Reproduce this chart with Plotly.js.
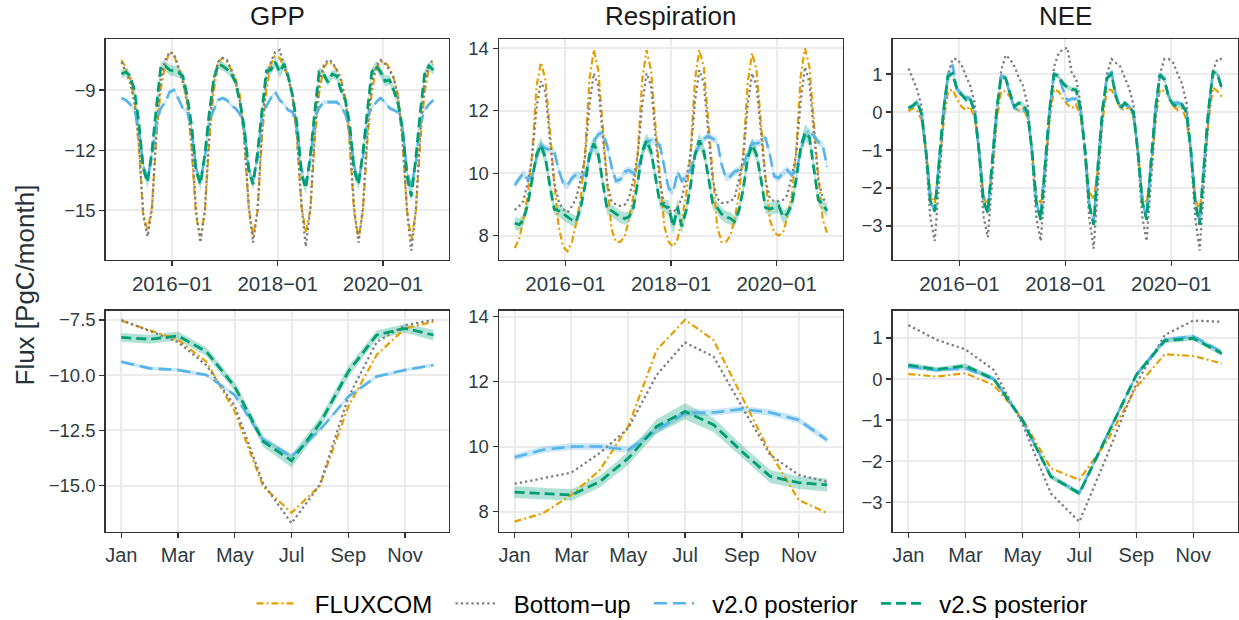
<!DOCTYPE html>
<html><head><meta charset="utf-8">
<script src="https://cdn.plot.ly/plotly-3.0.1.min.js"></script>
<style>html,body{margin:0;padding:0;background:#fff}#chart{width:1239px;height:620px}</style>
</head><body><div id="chart"></div>
<script>
// ---------- categories / tick labels ----------
const years = [2015, 2016, 2017, 2018, 2019, 2020];
const monthNums = [1,2,3,4,5,6,7,8,9,10,11,12];
const monthTickVals = [1,3,5,7,9,11];
const monthTickText = ['Jan','Mar','May','Jul','Sep','Nov'];
const dateTickVals = ['2016-01-01','2018-01-01','2020-01-01'];
const dateTickText = ['2016\u221201','2018\u221201','2020\u221201'];
const panelTitles = ['GPP','Respiration','NEE'];
const seriesNames = ['FLUXCOM','Bottom\u2212up','v2.0 posterior','v2.S posterior'];

// ---------- GPP monthly time series 2015-01 .. 2020-12 ----------
const gppTsFluxcom = [
-7.5,-7.9,-8.4,-9.5,-11.8,-15.2,-16.0,-14.8,-11.2,-8.9,-7.7,-7.1,
-7.3,-7.9,-8.5,-9.6,-11.9,-15.3,-16.3,-15.1,-11.5,-9.1,-7.6,-7.4,
-7.6,-8.0,-8.4,-9.3,-11.5,-14.9,-16.3,-15.0,-11.3,-9.0,-7.7,-7.3,
-7.4,-7.9,-8.3,-9.3,-11.4,-14.8,-16.1,-15.0,-11.5,-9.2,-7.9,-7.6,
-7.7,-8.0,-8.4,-9.4,-11.7,-15.1,-16.4,-15.0,-11.5,-9.1,-7.9,-7.6,
-7.6,-7.9,-8.4,-9.3,-11.6,-15.0,-16.5,-15.1,-11.6,-9.1,-7.9,-7.7];
const gppTsBottomUp = [
-7.6,-8.1,-8.6,-9.6,-11.5,-15.2,-16.3,-14.9,-10.9,-8.4,-7.5,-7.1,
-7.2,-7.9,-8.6,-9.7,-11.5,-15.0,-16.6,-15.0,-11.0,-8.4,-7.6,-7.4,
-7.5,-8.0,-8.6,-9.6,-11.3,-14.8,-16.6,-15.0,-10.9,-8.4,-7.6,-7.1,
-7.0,-7.8,-8.4,-9.4,-11.3,-14.7,-16.8,-15.0,-11.1,-8.6,-7.8,-7.5,
-7.6,-8.0,-8.5,-9.5,-11.4,-14.9,-16.6,-14.9,-11.0,-8.6,-7.8,-7.5,
-7.7,-8.0,-8.4,-9.4,-11.4,-15.0,-17.0,-15.0,-11.1,-8.6,-7.7,-7.5];
const gppTsV20 = [
-9.4,-9.5,-9.7,-10.0,-10.9,-12.8,-13.4,-12.3,-10.6,-9.9,-9.6,-9.1,
-9.0,-9.5,-9.9,-10.1,-10.9,-12.9,-13.5,-12.4,-10.5,-10.0,-9.5,-9.4,
-9.5,-9.8,-9.9,-10.2,-11.0,-12.9,-13.5,-12.4,-10.3,-9.8,-9.4,-9.1,
-9.5,-9.7,-10.0,-10.1,-10.9,-12.9,-13.7,-12.5,-10.4,-9.9,-9.6,-9.6,
-9.6,-9.6,-9.8,-10.2,-10.9,-12.8,-13.5,-12.4,-10.3,-9.9,-9.6,-9.4,
-9.6,-9.9,-10.0,-10.1,-10.9,-13.0,-13.9,-12.6,-10.7,-10.0,-9.7,-9.5];
const gppTsV20Sd = [
0.1,0.1,0.1,0.1,0.1,0.12,0.12,0.12,0.1,0.1,0.1,0.1,
0.1,0.1,0.1,0.1,0.1,0.12,0.12,0.12,0.1,0.1,0.1,0.1,
0.1,0.1,0.1,0.1,0.1,0.12,0.12,0.12,0.1,0.1,0.1,0.1,
0.1,0.1,0.1,0.1,0.1,0.12,0.12,0.12,0.1,0.1,0.1,0.1,
0.1,0.1,0.1,0.1,0.1,0.12,0.12,0.12,0.1,0.1,0.1,0.1,
0.1,0.1,0.1,0.1,0.1,0.12,0.12,0.12,0.1,0.1,0.1,0.1];
const gppTsV2S = [
-8.2,-8.1,-8.3,-9.0,-10.6,-12.9,-13.6,-12.0,-9.8,-7.8,-7.8,-8.0,
-8.05,-8.13,-8.3,-9.3,-10.8,-13.0,-13.7,-12.2,-10.1,-8.5,-7.7,-7.8,
-7.97,-8.2,-8.6,-9.6,-10.9,-13.0,-13.7,-12.1,-10.0,-8.05,-8.0,-7.6,
-8.1,-7.7,-8.3,-9.3,-10.7,-13.2,-13.9,-12.3,-10.1,-8.1,-8.2,-8.6,
-8.2,-8.3,-9.0,-9.5,-10.7,-13.0,-13.7,-12.1,-10.0,-8.1,-7.8,-8.1,
-8.55,-8.5,-9.0,-9.7,-10.9,-13.3,-14.3,-12.4,-10.1,-8.2,-7.8,-8.0];
const gppTsV2SSd = [
0.22,0.22,0.2,0.2,0.22,0.28,0.3,0.28,0.25,0.22,0.25,0.28,
0.28,0.25,0.22,0.2,0.22,0.28,0.3,0.28,0.25,0.22,0.22,0.22,
0.22,0.22,0.2,0.2,0.22,0.28,0.3,0.28,0.25,0.22,0.22,0.25,
0.3,0.3,0.25,0.2,0.22,0.28,0.3,0.28,0.25,0.22,0.22,0.22,
0.22,0.22,0.2,0.2,0.22,0.28,0.3,0.28,0.25,0.22,0.25,0.28,
0.28,0.25,0.22,0.2,0.22,0.28,0.3,0.28,0.25,0.22,0.22,0.25];

// ---------- Respiration monthly time series ----------
const respTsFluxcom = [
7.6,7.9,8.5,9.3,10.6,12.8,13.55,13.0,11.4,9.7,8.3,7.65,
7.5,7.8,8.4,9.2,10.6,13.0,13.95,13.3,11.5,9.7,8.2,7.8,
7.8,8.0,8.5,9.3,10.6,13.0,13.95,13.3,11.5,9.8,8.3,7.8,
7.65,7.9,8.5,9.3,10.6,13.0,13.95,13.4,11.6,9.8,8.3,7.8,
7.8,8.0,8.5,9.3,10.6,12.9,13.85,13.3,11.6,9.9,8.5,8.1,
8.0,8.1,8.6,9.3,10.7,13.1,14.0,13.4,11.6,9.9,8.5,8.1];
const respTsBottomUp = [
8.82,8.95,9.1,9.7,10.5,12.1,12.95,12.6,11.1,9.7,9.1,8.85,
8.75,8.95,9.2,9.8,10.5,12.2,13.2,12.8,11.2,9.7,9.1,9.0,
8.95,9.0,9.2,9.8,10.6,12.2,13.2,12.8,11.2,9.7,9.0,8.8,
8.75,8.9,9.2,9.8,10.6,12.3,13.3,12.9,11.3,9.8,9.2,9.05,
9.05,9.1,9.2,9.8,10.5,12.2,13.2,12.8,11.3,9.8,9.2,9.1,
9.1,9.15,9.3,9.9,10.6,12.3,13.4,12.9,11.3,9.8,9.2,9.05];
const respTsV20 = [
9.62,9.8,10.0,9.8,9.9,10.5,10.9,10.8,10.75,10.7,10.1,9.7,
9.6,9.85,9.95,9.9,9.95,10.5,11.0,11.25,11.3,10.9,10.2,9.75,
9.8,10.05,10.1,10.0,10.1,10.6,11.0,11.05,11.0,10.9,10.2,9.5,
9.4,10.05,9.75,9.9,10.1,10.6,10.9,11.1,11.2,11.1,11.05,10.3,
9.85,9.9,10.05,10.1,10.2,10.7,10.95,10.95,11.0,11.15,10.6,9.9,
9.85,10.0,10.1,9.95,10.1,10.7,11.2,11.3,11.2,11.0,10.9,10.2];
const respTsV20Sd = [
0.12,0.12,0.12,0.12,0.12,0.12,0.12,0.12,0.12,0.12,0.12,0.12,
0.12,0.12,0.12,0.12,0.12,0.12,0.12,0.12,0.12,0.12,0.12,0.12,
0.12,0.12,0.12,0.12,0.12,0.12,0.12,0.12,0.12,0.12,0.12,0.12,
0.12,0.12,0.12,0.12,0.12,0.12,0.12,0.12,0.12,0.12,0.12,0.12,
0.12,0.12,0.12,0.12,0.12,0.12,0.12,0.12,0.12,0.12,0.12,0.12,
0.12,0.12,0.12,0.12,0.12,0.12,0.12,0.12,0.12,0.12,0.12,0.12];
const respTsV2S = [
8.4,8.35,8.5,9.0,9.8,10.6,10.9,10.5,9.6,8.85,8.8,8.7,
8.6,8.5,8.45,8.9,9.6,10.6,10.95,10.6,9.7,8.85,8.8,8.7,
8.6,8.55,8.6,8.9,9.7,10.7,11.05,10.7,9.8,9.05,8.95,8.9,
8.3,8.9,8.3,8.8,9.6,10.6,11.05,10.7,9.9,9.05,8.9,8.7,
8.6,8.55,8.45,8.8,9.5,10.5,10.9,10.6,9.8,8.9,8.85,8.9,
8.95,8.6,8.7,9.0,9.8,10.8,11.3,11.15,10.2,9.15,9.0,8.8];
const respTsV2SSd = [
0.2,0.2,0.18,0.18,0.2,0.22,0.25,0.22,0.2,0.18,0.2,0.2,
0.2,0.2,0.18,0.18,0.2,0.22,0.25,0.22,0.2,0.18,0.2,0.2,
0.2,0.2,0.18,0.18,0.2,0.22,0.25,0.22,0.2,0.18,0.2,0.25,
0.28,0.28,0.25,0.18,0.2,0.22,0.25,0.22,0.2,0.18,0.2,0.2,
0.2,0.2,0.18,0.18,0.2,0.22,0.25,0.22,0.2,0.18,0.2,0.2,
0.22,0.22,0.2,0.18,0.2,0.22,0.28,0.25,0.2,0.18,0.2,0.2];

// ---------- NEE monthly time series ----------
const neeTsFluxcom = [
0.02,0.1,0.05,-0.2,-1.0,-2.1,-2.4,-1.5,-0.2,0.55,0.6,0.35,
0.15,0.05,0.15,-0.15,-0.95,-2.2,-2.5,-1.5,-0.2,0.55,0.55,0.4,
0.1,0.05,0.1,-0.15,-0.95,-2.2,-2.4,-1.45,-0.15,0.6,0.55,0.35,
0.2,0.1,0.2,-0.1,-0.9,-2.1,-2.3,-1.45,-0.2,0.6,0.58,0.4,
0.1,0.05,0.15,-0.15,-0.95,-2.2,-2.4,-1.5,-0.2,0.6,0.55,0.45,
0.15,0.05,0.1,-0.2,-1.0,-2.25,-2.6,-1.5,-0.2,0.65,0.55,0.4];
const neeTsBottomUp = [
1.15,0.85,0.6,0.15,-1.1,-2.8,-3.4,-1.8,-0.1,1.0,1.4,1.4,
1.25,0.95,0.7,0.25,-1.05,-2.75,-3.3,-1.75,-0.05,1.1,1.5,1.4,
1.2,0.9,0.7,0.2,-1.1,-2.8,-3.4,-1.8,-0.05,1.2,1.55,1.65,
1.7,1.0,0.9,0.25,-1.05,-2.8,-3.6,-1.85,-0.1,1.0,1.4,1.3,
1.2,0.9,0.65,0.2,-1.1,-2.75,-3.4,-1.8,-0.15,1.0,1.4,1.4,
1.3,1.0,0.75,0.25,-1.1,-2.8,-3.65,-1.85,-0.1,1.1,1.4,1.4];
const neeTsV20 = [
0.1,0.15,0.25,-0.05,-1.0,-2.35,-2.6,-1.3,0.1,1.0,1.25,0.6,
0.5,0.4,0.35,0.0,-1.0,-2.35,-2.65,-1.3,0.1,0.95,0.9,0.45,
0.1,0.05,0.05,0.0,-1.0,-2.4,-2.8,-1.35,0.1,1.0,0.95,0.6,
0.3,0.35,0.35,0.05,-0.95,-2.45,-2.9,-1.35,0.1,0.95,1.05,0.45,
0.15,0.2,0.15,0.0,-1.0,-2.35,-2.8,-1.3,0.1,1.0,0.9,0.4,
0.25,0.25,0.2,0.0,-1.0,-2.4,-2.9,-1.35,0.1,1.05,1.05,0.6];
const neeTsV20Sd = [
0.06,0.06,0.06,0.06,0.06,0.06,0.06,0.06,0.06,0.06,0.06,0.06,
0.06,0.06,0.06,0.06,0.06,0.06,0.06,0.06,0.06,0.06,0.06,0.06,
0.06,0.06,0.06,0.06,0.06,0.06,0.06,0.06,0.06,0.06,0.06,0.06,
0.06,0.06,0.06,0.06,0.06,0.06,0.06,0.06,0.06,0.06,0.06,0.06,
0.06,0.06,0.06,0.06,0.06,0.06,0.06,0.06,0.06,0.06,0.06,0.06,
0.06,0.06,0.06,0.06,0.06,0.06,0.06,0.06,0.06,0.06,0.06,0.06];
const neeTsV2S = [
0.11,0.17,0.28,-0.05,-1.0,-2.35,-2.62,-1.3,0.1,0.95,1.02,0.6,
0.45,0.33,0.37,0.0,-1.0,-2.35,-2.66,-1.3,0.1,0.94,0.9,0.5,
0.15,0.24,0.2,0.0,-1.0,-2.4,-2.84,-1.35,0.1,1.0,0.95,0.76,
0.65,0.6,0.59,0.1,-0.95,-2.45,-2.97,-1.35,0.1,0.9,1.0,0.41,
0.1,0.24,0.15,0.0,-1.0,-2.35,-2.84,-1.3,0.1,0.98,0.85,0.37,
0.2,0.15,0.2,0.0,-1.0,-2.4,-2.97,-1.35,0.1,1.07,0.98,0.63];
const neeTsV2SSd = [
0.07,0.07,0.07,0.07,0.07,0.08,0.08,0.08,0.07,0.07,0.07,0.07,
0.07,0.07,0.07,0.07,0.07,0.08,0.08,0.08,0.07,0.07,0.07,0.07,
0.07,0.07,0.07,0.07,0.07,0.08,0.08,0.08,0.07,0.07,0.07,0.07,
0.07,0.07,0.07,0.07,0.07,0.08,0.08,0.08,0.07,0.07,0.07,0.07,
0.07,0.07,0.07,0.07,0.07,0.08,0.08,0.08,0.07,0.07,0.07,0.07,
0.07,0.07,0.07,0.07,0.07,0.08,0.08,0.08,0.07,0.07,0.07,0.07];

// ---------- Monthly climatology (Jan..Dec) ----------
const gppClimFluxcom  = [-7.53,-7.95,-8.4,-9.39,-11.65,-15.04,-16.22,-15.0,-11.42,-9.08,-7.88,-7.58];
const gppClimBottomUp = [-7.5,-8.0,-8.5,-9.55,-11.4,-14.9,-16.7,-14.95,-11.0,-8.5,-7.74,-7.5];
const gppClimV20      = [-9.39,-9.69,-9.76,-9.99,-10.9,-12.93,-13.68,-12.48,-10.97,-10.06,-9.76,-9.54];
const gppClimV20Sd    = [0.08,0.08,0.08,0.08,0.08,0.1,0.1,0.1,0.08,0.08,0.08,0.08];
const gppClimV2S      = [-8.29,-8.37,-8.22,-8.93,-10.52,-13.0,-13.87,-12.18,-9.84,-8.18,-7.88,-8.18];
const gppClimV2SSd    = [0.2,0.2,0.2,0.2,0.2,0.25,0.3,0.25,0.25,0.2,0.2,0.25];

const respClimFluxcom  = [7.69,7.95,8.51,9.28,10.62,12.97,13.9,13.28,11.54,9.8,8.36,7.95];
const respClimBottomUp = [8.85,9.03,9.2,9.8,10.56,12.2,13.2,12.77,11.23,9.74,9.13,8.92];
const respClimV20      = [9.67,9.9,10.0,10.0,9.9,10.51,11.03,11.05,11.15,11.05,10.82,10.2];
const respClimV20Sd    = [0.1,0.1,0.1,0.1,0.1,0.1,0.1,0.1,0.1,0.1,0.1,0.1];
const respClimV2S      = [8.6,8.56,8.51,8.92,9.64,10.62,11.08,10.67,9.85,9.08,8.89,8.82];
const respClimV2SSd    = [0.18,0.18,0.18,0.18,0.2,0.22,0.25,0.22,0.2,0.2,0.2,0.2];

const neeClimFluxcom  = [0.12,0.06,0.14,-0.15,-0.96,-2.17,-2.45,-1.48,-0.19,0.6,0.56,0.38];
const neeClimBottomUp = [1.31,0.95,0.72,0.22,-1.08,-2.78,-3.47,-1.81,-0.1,1.07,1.42,1.39];
const neeClimV20      = [0.3,0.22,0.26,0.0,-1.0,-2.37,-2.76,-1.32,0.1,0.96,1.04,0.66];
const neeClimV20Sd    = [0.05,0.05,0.05,0.05,0.05,0.05,0.05,0.05,0.05,0.05,0.05,0.05];
const neeClimV2S      = [0.34,0.23,0.32,0.0,-1.0,-2.37,-2.78,-1.32,0.1,0.93,0.99,0.62];
const neeClimV2SSd    = [0.06,0.06,0.06,0.06,0.06,0.06,0.06,0.06,0.06,0.06,0.06,0.06];

// ---------- build ----------
const tsDates = [];
years.forEach(y => monthNums.forEach(m => tsDates.push(y + '-' + String(m).padStart(2,'0') + '-15')));

const FONT = '"Liberation Sans", Arial, Helvetica, sans-serif';
const TICKCOL = '#2E3B42';
const col = {flux:'#E69F00', bu:'#7F7F7F', v20:'#56B4E9', v2s:'#009E73'};
const bandFill = {v20:'rgba(86,180,233,0.32)', v2s:'rgba(0,158,115,0.3)'};
const lineStyle = {
  flux:{color:col.flux, width:2.2, dash:'7px,3px,2px,3px'},
  bu:{color:col.bu, width:2.3, dash:'2.3px,3px'},
  v20:{color:col.v20, width:2.6, dash:'13px,6px'},
  v2s:{color:col.v2s, width:2.8, dash:'10px,5px'}
};
// legend spacing (non-breaking spaces around the labels keep the gaps)
const padL = '\u00a0\u00a0';
const padR = '\u00a0\u00a0';

const ts = tsDates;
const panels = [
  {x:ts, flux:gppTsFluxcom, bu:gppTsBottomUp, v20:gppTsV20, v20sd:gppTsV20Sd, v2s:gppTsV2S, v2ssd:gppTsV2SSd,
   yr:[-17.47,-6.47], yt:[-15,-12,-9], ytt:['\u221215','\u221212','\u22129']},
  {x:ts, flux:respTsFluxcom, bu:respTsBottomUp, v20:respTsV20, v20sd:respTsV20Sd, v2s:respTsV2S, v2ssd:respTsV2SSd,
   yr:[7.22,14.29], yt:[8,10,12,14], ytt:['8','10','12','14']},
  {x:ts, flux:neeTsFluxcom, bu:neeTsBottomUp, v20:neeTsV20, v20sd:neeTsV20Sd, v2s:neeTsV2S, v2ssd:neeTsV2SSd,
   yr:[-3.9,1.92], yt:[-3,-2,-1,0,1], ytt:['\u22123','\u22122','\u22121','0','1']},
  {x:monthNums, flux:gppClimFluxcom, bu:gppClimBottomUp, v20:gppClimV20, v20sd:gppClimV20Sd, v2s:gppClimV2S, v2ssd:gppClimV2SSd,
   yr:[-17.08,-7.08], yt:[-15,-12.5,-10,-7.5], ytt:['\u221215.0','\u221212.5','\u221210.0','\u22127.5']},
  {x:monthNums, flux:respClimFluxcom, bu:respClimBottomUp, v20:respClimV20, v20sd:respClimV20Sd, v2s:respClimV2S, v2ssd:respClimV2SSd,
   yr:[7.38,14.18], yt:[8,10,12,14], ytt:['8','10','12','14']},
  {x:monthNums, flux:neeClimFluxcom, bu:neeClimBottomUp, v20:neeClimV20, v20sd:neeClimV20Sd, v2s:neeClimV2S, v2ssd:neeClimV2SSd,
   yr:[-3.71,1.66], yt:[-3,-2,-1,0,1], ytt:['\u22123','\u22122','\u22121','0','1']}
];

const W = 1239, H = 620;
const colPx = [[105.7,449],[499,842.7],[892.7,1237.5]];
const rowPx = [[39.3,260],[310.7,531.7]];

const t0 = Date.UTC(2015,0,15), t1 = Date.UTC(2020,11,15);
const tp = 0.05*(t1-t0);
const dateRange = [new Date(t0-tp).toISOString().slice(0,10), new Date(t1+tp).toISOString().slice(0,10)];

const traces = [];
const layout = {
  width:W, height:H, margin:{l:0,r:0,t:0,b:0, autoexpand:false},
  paper_bgcolor:'#ffffff', plot_bgcolor:'#ffffff',
  font:{family:FONT, color:'#000'},
  showlegend:true,
  legend:{orientation:'h', x:672/W, xanchor:'center', y:-0.01, yanchor:'bottom',
          font:{size:24, color:'#000', family:FONT}, traceorder:'normal', itemwidth:40,
          bgcolor:'rgba(0,0,0,0)'},
  annotations:[]
};

panels.forEach((p, i) => {
  const r = i < 3 ? 0 : 1, c = i % 3;
  const xa = 'x' + (i+1), ya = 'y' + (i+1);
  const xk = 'xaxis' + (i===0?'':i+1), yk = 'yaxis' + (i===0?'':i+1);
  const common = {showgrid:true, gridcolor:'#EBEBEB', gridwidth:2, zeroline:false,
    showline:true, mirror:true, linecolor:'#333333', linewidth:1.4,
    ticks:'outside', ticklen:5, tickwidth:1.4, tickcolor:'#333333', fixedrange:true};
  layout[xk] = Object.assign({}, common, {
    domain:[colPx[c][0]/W, colPx[c][1]/W], anchor:ya,
    type: r===0 ? 'date' : 'linear',
    range: r===0 ? dateRange : [0.45, 12.55],
    tickmode:'array',
    tickvals: r===0 ? dateTickVals : monthTickVals,
    ticktext: r===0 ? dateTickText : monthTickText,
    tickfont:{size: r===0 ? 20.5 : 20, color:TICKCOL, family:FONT}
  });
  layout[yk] = Object.assign({}, common, {
    domain:[1-rowPx[r][1]/H, 1-rowPx[r][0]/H], anchor:xa,
    range:p.yr, tickmode:'array', tickvals:p.yt, ticktext:p.ytt,
    tickfont:{size:18.5, color:TICKCOL, family:FONT}
  });

  // uncertainty bands
  [['v20','v20sd'],['v2s','v2ssd']].forEach(([k, sk]) => {
    const lo = p[k].map((v,j) => v - p[sk][j]);
    const hi = p[k].map((v,j) => v + p[sk][j]);
    traces.push({x:p.x, y:lo, xaxis:xa, yaxis:ya, type:'scatter', mode:'lines',
      line:{width:0, color:'rgba(0,0,0,0)'}, showlegend:false, hoverinfo:'skip'});
    traces.push({x:p.x, y:hi, xaxis:xa, yaxis:ya, type:'scatter', mode:'lines',
      line:{width:0, color:'rgba(0,0,0,0)'}, fill:'tonexty', fillcolor:bandFill[k],
      showlegend:false, hoverinfo:'skip'});
  });
  ['flux','bu','v20','v2s'].forEach((k, si) => {
    traces.push({x:p.x, y:p[k], xaxis:xa, yaxis:ya, type:'scatter', mode:'lines',
      name: padL + seriesNames[si] + (si < 3 ? padR : ''), legendgroup:k, showlegend:i===0, line:lineStyle[k]});
  });
  if (r === 0) {
    layout.annotations.push({text:panelTitles[c], xref:'paper', yref:'paper',
      x:(colPx[c][0]+colPx[c][1])/2/W, y:1-16/H, xanchor:'center', yanchor:'middle',
      showarrow:false, font:{size:26, color:'#1a1a1a', family:FONT}});
  }
});

layout.annotations.push({text:'Flux [PgC/month]', xref:'paper', yref:'paper',
  x:24/W, y:1-285.5/H, xanchor:'center', yanchor:'middle', textangle:-90,
  showarrow:false, font:{size:26, color:'#263238', family:FONT}});

Plotly.newPlot('chart', traces, layout, {displayModeBar:false, staticPlot:true});
</script></body></html>
